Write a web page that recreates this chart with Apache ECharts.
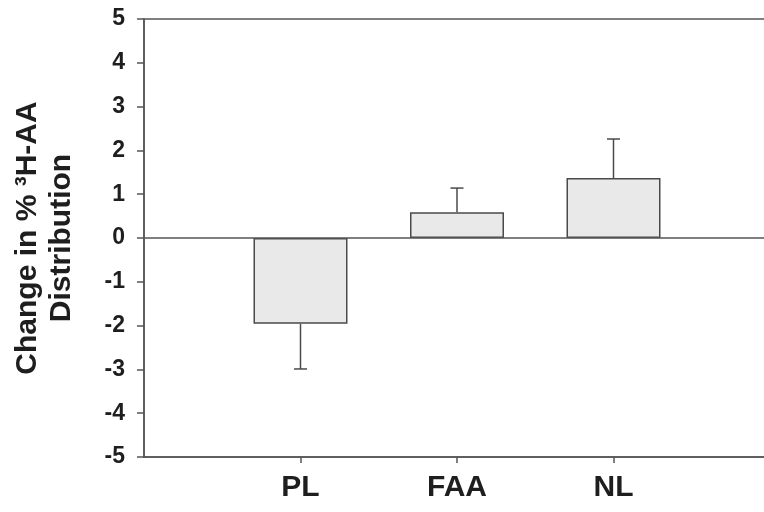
<!DOCTYPE html>
<html><head><meta charset="utf-8">
<script src="https://cdn.jsdelivr.net/npm/echarts@6/dist/echarts.min.js"></script>
<style>html,body{margin:0;padding:0;background:#fff}#c{width:764px;height:512px}</style>
</head><body><div id="c"></div>
<script>
// ---- data ----
const categories = ['PL', 'FAA', 'NL'];
const values = [-1.96, 0.59, 1.37];
const errors = [1.03, 0.55, 0.89];
const yMin = -5, yMax = 5, yStep = 1;
const yAxisTitle = 'Change in % \u00B3H-AA\nDistribution';

// ---- build ----
const axisCats = [''].concat(categories, ['']);
const barData = categories.map((c, i) => [c, values[i]]);
const errData = categories.map((c, i) => [c, values[i], values[i] + Math.sign(values[i]) * errors[i]]);
const lineCol = '#555';
const textCol = '#1e1e1e';
const font = 'Liberation Sans, Arial, sans-serif';

const chart = echarts.init(document.getElementById('c'), null, {renderer: 'canvas'});
chart.setOption({
  animation: false,
  backgroundColor: '#fff',
  grid: {left: 144, right: -6, top: 19, bottom: 55, outerBoundsMode: 'none', containLabel: false,
    show: true, borderColor: lineCol, borderWidth: 1.5, backgroundColor: 'transparent'},
  xAxis: {
    type: 'category', data: axisCats, boundaryGap: false,
    axisLine: {onZero: false, lineStyle: {color: lineCol, width: 1.5}},
    axisTick: {show: true, length: 6, interval: (i, v) => v !== '', lineStyle: {color: lineCol, width: 1.5}},
    axisLabel: {interval: 0, margin: 16, color: textCol, fontSize: 30, fontWeight: 'bold', fontFamily: font},
    splitLine: {show: false}
  },
  yAxis: {
    type: 'value', min: yMin, max: yMax, interval: yStep,
    axisLine: {show: true, lineStyle: {color: lineCol, width: 1.5}},
    axisTick: {show: true, length: 7, lineStyle: {color: lineCol, width: 1.5}},
    axisLabel: {margin: 19, color: textCol, fontSize: 23, fontWeight: 'bold', fontFamily: font},
    splitLine: {show: false},
    name: yAxisTitle, nameLocation: 'middle', nameGap: 65,
    nameTextStyle: {color: textCol, fontSize: 30, fontWeight: 'bold', fontFamily: font, lineHeight: 34, align: 'center'}
  },
  series: [
    {
      type: 'bar', data: barData, barWidth: 94,
      itemStyle: {color: '#e9e9e9', borderColor: '#4a4a4a', borderWidth: 1.5},
      emphasis: {disabled: true},
      markLine: {silent: true, symbol: ['none', 'none'], label: {show: false},
        lineStyle: {color: lineCol, width: 1.5, type: 'solid'}, data: [{yAxis: 0}]}
    },
    {
      type: 'custom', data: errData, z: 5,
      encode: {x: 0, y: [1, 2]},
      renderItem: function (params, api) {
        const p0 = api.coord([api.value(0), api.value(1)]);
        const p1 = api.coord([api.value(0), api.value(2)]);
        const half = 6.5;
        const st = {stroke: '#4a4a4a', lineWidth: 1.5};
        return {type: 'group', children: [
          {type: 'line', shape: {x1: p0[0], y1: p0[1], x2: p1[0], y2: p1[1]}, style: st},
          {type: 'line', shape: {x1: p1[0] - half, y1: p1[1], x2: p1[0] + half, y2: p1[1]}, style: st}
        ]};
      }
    }
  ]
});
</script></body></html>
